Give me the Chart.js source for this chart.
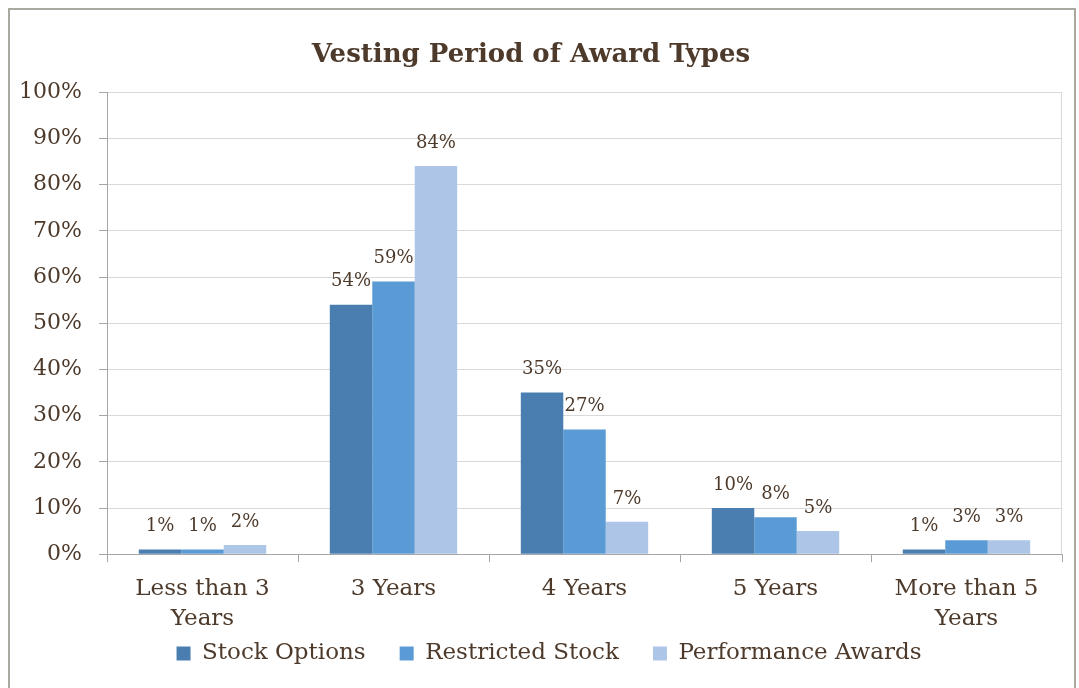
<!DOCTYPE html>
<html>
<head>
<meta charset="utf-8">
<title>Vesting Period of Award Types</title>
<script src="https://cdn.jsdelivr.net/npm/chart.js@4/dist/chart.umd.min.js"></script>
<style>
  body { margin: 0; background: #fff; }
  #frame {
    position: absolute; left: 8px; top: 8px;
    width: 1068px; height: 720px;
    border: 2px solid #aaa9a0;
    box-sizing: border-box;
  }
  #wrap { position: absolute; left: 0; top: 0; width: 1079px; height: 688px; }
</style>
</head>
<body>
<div id="frame"></div>
<div id="wrap"><canvas id="bar"></canvas></div>
<script>
'use strict';

// 카테고리 (x축)
const categories = [['Less than 3', 'Years'], '3 Years', '4 Years', '5 Years', ['More than 5', 'Years']];

// 시리즈 값 (%)
const stockOptions = [1, 54, 35, 10, 1];
const restrictedStock = [1, 59, 27, 8, 3];
const performanceAwards = [2, 84, 7, 5, 3];

// y축 눈금
const yTicks = [0, 10, 20, 30, 40, 50, 60, 70, 80, 90, 100];

const brown = '#4d3a2b';
const serif = "'DejaVu Serif', 'Liberation Serif', serif";

// 막대 위 값 표시
const valueLabels = {
    id: 'valueLabels',
    afterDatasetsDraw(chart) {
        const ctx = chart.ctx;
        ctx.save();
        ctx.font = '18px ' + serif;
        ctx.fillStyle = brown;
        ctx.textAlign = 'center';
        ctx.textBaseline = 'middle';
        chart.data.datasets.forEach((ds, i) => {
            chart.getDatasetMeta(i).data.forEach((el, j) => {
                ctx.fillText(ds.data[j] + '%', el.x, el.y - 23);
            });
        });
        ctx.restore();
    }
};

// 플롯 영역 오른쪽 테두리
const plotBorder = {
    id: 'plotBorder',
    beforeDatasetsDraw(chart) {
        const a = chart.chartArea;
        const ctx = chart.ctx;
        ctx.save();
        ctx.strokeStyle = '#d9d9d9';
        ctx.lineWidth = 1;
        ctx.beginPath();
        ctx.moveTo(a.right - 0.5, a.top);
        ctx.lineTo(a.right - 0.5, a.bottom);
        ctx.stroke();
        ctx.restore();
    }
};

// 범례를 x축 라벨 쪽으로 올리고 조금 오른쪽으로 (항목 간격은 넓게 유지)
const legendShift = {
    id: 'legendShift',
    afterLayout(chart) {
        const lg = chart.legend;
        if (!lg) return;
        lg.top -= 38;
        lg.bottom -= 38;
        lg.left += 18;
        lg.right += 18;
    }
};

const bar = document.getElementById('bar');
const barChart = new Chart(bar, {
    type: 'bar',
    data: {
        labels: categories,
        datasets: [{
            label: 'Stock Options',
            data: stockOptions,
            backgroundColor: '#4a7eb0'
        }, {
            label: 'Restricted Stock',
            data: restrictedStock,
            backgroundColor: '#5b9bd5'
        }, {
            label: 'Performance Awards',
            data: performanceAwards,
            backgroundColor: '#adc5e6'
        }]
    },
    options: {
        responsive: true,
        maintainAspectRatio: false,
        animation: false,
        categoryPercentage: 0.667,
        barPercentage: 1,
        layout: { padding: { left: 0, right: 17, top: 0, bottom: -25 } },
        plugins: {
            title: {
                display: true,
                text: 'Vesting Period of Award Types',
                color: brown,
                font: { family: serif, size: 26, weight: 'bold' },
                padding: { top: 40, bottom: 21 }
            },
            legend: {
                position: 'bottom',
                labels: {
                    color: brown,
                    font: { family: serif, size: 23 },
                    boxWidth: 14,
                    boxHeight: 14,
                    padding: 34
                }
            },
            tooltip: { enabled: false }
        },
        scales: {
            x: {
                grid: {
                    display: true,
                    drawOnChartArea: false,
                    offset: true,
                    tickLength: 8,
                    color: '#a6a6a6'
                },
                border: { color: '#a6a6a6' },
                ticks: {
                    color: brown,
                    font: { family: serif, size: 23, lineHeight: 1.3 },
                    padding: 12,
                    maxRotation: 0
                }
            },
            y: {
                min: 0,
                max: 100,
                afterBuildTicks(scale) {
                    scale.ticks = yTicks.map(v => ({ value: v }));
                },
                afterFit(scale) {
                    scale.width = 107;
                },
                grid: {
                    color: '#d9d9d9',
                    tickColor: '#a6a6a6',
                    tickLength: 8
                },
                border: { color: '#a6a6a6' },
                ticks: {
                    color: brown,
                    font: { family: serif, size: 22 },
                    padding: 17,
                    callback: v => v + '%'
                }
            }
        }
    },
    plugins: [valueLabels, plotBorder, legendShift]
});
</script>
</body>
</html>
